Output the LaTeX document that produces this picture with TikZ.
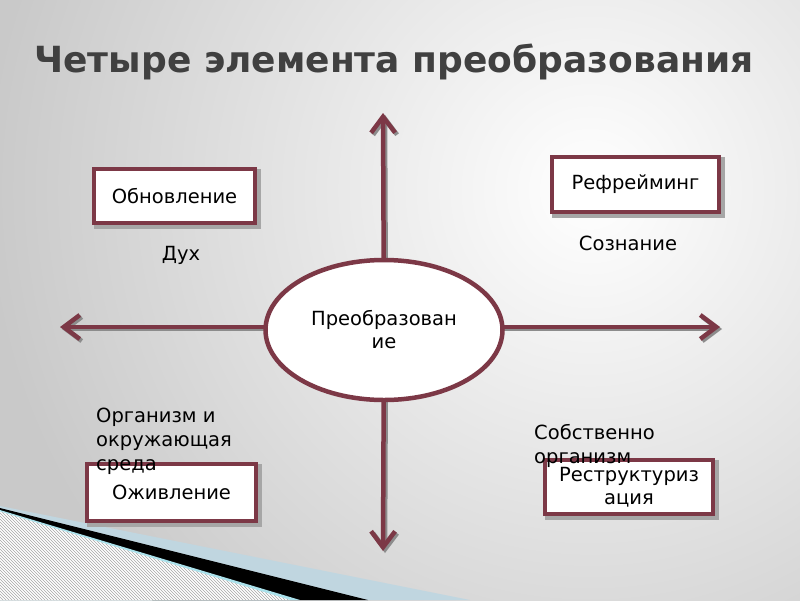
\documentclass[tikz,border=0pt]{standalone}
\usepackage{fontspec}
\setmainfont{DejaVu Sans}
\usetikzlibrary{arrows.meta,patterns,shapes.geometric}
\definecolor{boxred}{RGB}{124,56,70}
\definecolor{titlegray}{RGB}{64,64,64}
\definecolor{edgeblue}{RGB}{192,214,224}
\definecolor{edgecyan}{RGB}{170,225,235}

\begin{document}
\begin{tikzpicture}[x=1pt,y=-1pt,
  box/.style={draw=boxred,line width=4.5pt,fill=white,inner sep=0pt,
    font=\fontsize{19.5}{23}\selectfont,align=center},
  lbl/.style={font=\fontsize{19.5}{24}\selectfont,align=left,inner sep=0pt},
  arr/.style={draw=boxred,line width=4.5pt,-{Straight Barb[length=16pt,width=24pt]}},
  arrshadow/.style={draw=black!45,line width=4.5pt,-{Straight Barb[length=16pt,width=24pt]}}]
\useasboundingbox (0,0) rectangle (800,600);

% background
\fill[black!21] (0,0) rectangle (800,600);
\begin{scope}
\clip (0,0) rectangle (800,600);
\shade[inner color=white,outer color=black!21] (590,190) circle (600);
\end{scope}

%
\fill[edgeblue] (0,506)--(470,600)--(0,600)--cycle;
\fill[black] (0,508)--(368,600)--(0,600)--cycle;
\fill[edgecyan] (0,510)--(300,600)--(0,600)--cycle;
\fill[white] (0,511.5)--(290,600)--(0,600)--cycle;
\fill[pattern=north west lines,pattern color=black!35] (0,511.5)--(290,600)--(0,600)--cycle;

\node[font=\fontsize{36}{40}\selectfont\bfseries,text=titlegray] (title) at (394,62) {Четыре элемента преобразования};

\coordinate (up) at (383,113);
\coordinate (down) at (383,551);
\coordinate (left) at (60,327);
\coordinate (right) at (720,327);
\coordinate (hub) at (384,330);

% shadows
\draw[arrshadow] ([shift={(2,2)}]hub) -- ([shift={(2,2)}]up);
\draw[arrshadow] ([shift={(2,2)}]hub) -- ([shift={(2,2)}]down);
\draw[arrshadow] ([shift={(2,2)}]hub |- left) -- ([shift={(2,2)}]left);
\draw[arrshadow] ([shift={(2,2)}]hub |- right) -- ([shift={(2,2)}]right);

\draw[arr] (hub) -- (up);
\draw[arr] (hub) -- (down);
\draw[arr] (hub |- left) -- (left);
\draw[arr] (hub |- right) -- (right);

\node[box,ellipse,minimum width=237pt,minimum height=140pt] (center) at (hub) {Преобразован\\ие};

% boxes
\fill[black!35] (94,169) rectangle (261,229);
\node[box,minimum width=161pt,minimum height=54pt] (renew) at (174.5,196) {Обновление};
\fill[black!35] (552,157) rectangle (725,218);
\node[box,minimum width=167pt,minimum height=55pt] (reframe) at (635.5,184.5) {Рефрейминг};
\fill[black!35] (87,464) rectangle (262,527);
\node[box,minimum width=169pt,minimum height=57pt] (revive) at (171.5,492.5) {Оживление};
\fill[black!35] (545,460) rectangle (719,520);
\node[box,minimum width=168pt,minimum height=54pt] (restruct) at (629,487) {Реструктуриз\\ация};

% labels
\node[lbl] (spirit) at (181,255) {Дух};
\node[lbl] (mind) at (628,243) {Сознание};
\node[lbl,anchor=north west] (env) at (96,408) {Организм и\\окружающая\\среда};
\node[lbl,anchor=north west] (self) at (534,424) {Собственно\\организм};
\end{tikzpicture}
\end{document}
